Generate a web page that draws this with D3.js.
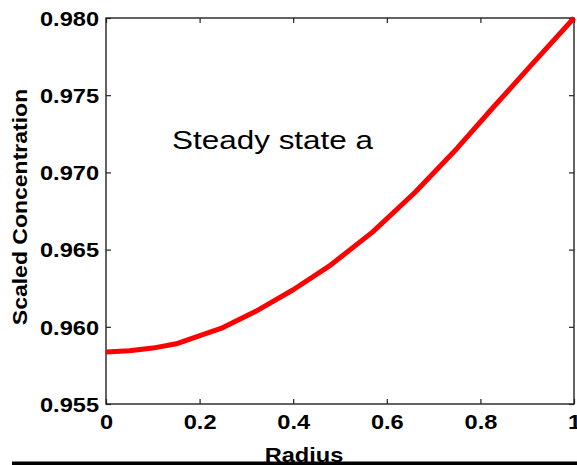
<!DOCTYPE html>
<html>
<head>
<meta charset="utf-8">
<script src="https://cdn.jsdelivr.net/npm/d3@7/dist/d3.min.js"></script>
<style>
  body { margin: 0; background: #fff; }
  text { font-family: "Liberation Sans", Arial, sans-serif; fill: #000; }
</style>
</head>
<body>
<svg id="chart" width="577" height="465"></svg>
<script>
// Data
var radius = [0, 0.05, 0.1, 0.15, 0.25, 0.32, 0.4, 0.48, 0.57, 0.66, 0.75, 0.83, 0.91, 1.0];
var concentration = [0.95837, 0.95845, 0.95862, 0.95890, 0.95995, 0.96100, 0.96240, 0.96400,
                     0.96615, 0.96870, 0.97155, 0.97430, 0.97700, 0.98000];
var xTicks = [0, 0.2, 0.4, 0.6, 0.8, 1];
var yTicks = [0.955, 0.960, 0.965, 0.970, 0.975, 0.980];

var svg = d3.select('#chart');
var plotLeft = 106, plotRight = 574, plotTop = 18, plotBottom = 404;
var stretch = 'scale(1.18,1)';

var x = d3.scaleLinear().domain([0, 1]).range([plotLeft, plotRight]);
var y = d3.scaleLinear().domain([0.955, 0.980]).range([plotBottom, plotTop]);

var points = radius.map(function(r, i) { return [r, concentration[i]]; });

// Plot frame
svg.append('rect')
    .attr('x', plotLeft).attr('y', plotTop)
    .attr('width', plotRight - plotLeft).attr('height', plotBottom - plotTop)
    .attr('fill', 'none').attr('stroke', '#222').attr('stroke-width', 1.4);

// Bottom axis
var xAxis = svg.append('g')
    .attr('transform', 'translate(0,' + plotBottom + ')')
    .call(d3.axisBottom(x).tickValues(xTicks).tickSize(-5).tickSizeOuter(0).tickPadding(11)
        .tickFormat(function(d) { return (d === 0 || d === 1) ? String(d) : d.toFixed(1); }));

// Left axis
var yAxis = svg.append('g')
    .attr('transform', 'translate(' + plotLeft + ',0)')
    .call(d3.axisLeft(y).tickValues(yTicks).tickSize(-5).tickSizeOuter(0).tickPadding(7)
        .tickFormat(d3.format('.3f')));

// Mirror ticks top and right
svg.append('g')
    .attr('transform', 'translate(0,' + plotTop + ')')
    .call(d3.axisTop(x).tickValues(xTicks).tickSize(-5).tickSizeOuter(0).tickFormat(''));
svg.append('g')
    .attr('transform', 'translate(' + plotRight + ',0)')
    .call(d3.axisRight(y).tickValues(yTicks).tickSize(-5).tickSizeOuter(0).tickFormat(''));

svg.selectAll('.domain').remove();
svg.selectAll('.tick line').attr('stroke', '#222').attr('stroke-width', 1.2);

xAxis.selectAll('text')
    .attr('font-size', 20).attr('font-weight', 'bold')
    .attr('font-family', '"Liberation Sans", Arial, sans-serif')
    .attr('transform', stretch);

yAxis.selectAll('text')
    .attr('x', 0).attr('dy', '0.36em')
    .attr('font-size', 20).attr('font-weight', 'bold')
    .attr('font-family', '"Liberation Sans", Arial, sans-serif')
    .attr('transform', 'translate(-7,0) ' + stretch);

// Curve
var line = d3.line()
    .x(function(d) { return x(d[0]); })
    .y(function(d) { return y(d[1]); });

svg.append('path')
    .datum(points)
    .attr('d', line)
    .attr('fill', 'none')
    .attr('stroke', '#ff0000')
    .attr('stroke-width', 5)
    .attr('stroke-linejoin', 'round');

// Annotation
svg.append('text')
    .attr('transform', 'translate(172,149) scale(1.21,1)')
    .attr('font-size', 26)
    .text('Steady state a');

// Axis titles
svg.append('text')
    .attr('transform', 'translate(27,207) rotate(-90) ' + stretch)
    .attr('text-anchor', 'middle')
    .attr('font-size', 19.5).attr('font-weight', 'bold')
    .text('Scaled Concentration');

svg.append('text')
    .attr('transform', 'translate(304,461.5) ' + stretch)
    .attr('text-anchor', 'middle')
    .attr('font-size', 20).attr('font-weight', 'bold')
    .text('Radius');

// Black bar along the bottom edge
svg.append('rect')
    .attr('x', 12).attr('y', 461.5)
    .attr('width', 577 - 12).attr('height', 4)
    .attr('fill', '#000');
</script>
</body>
</html>
